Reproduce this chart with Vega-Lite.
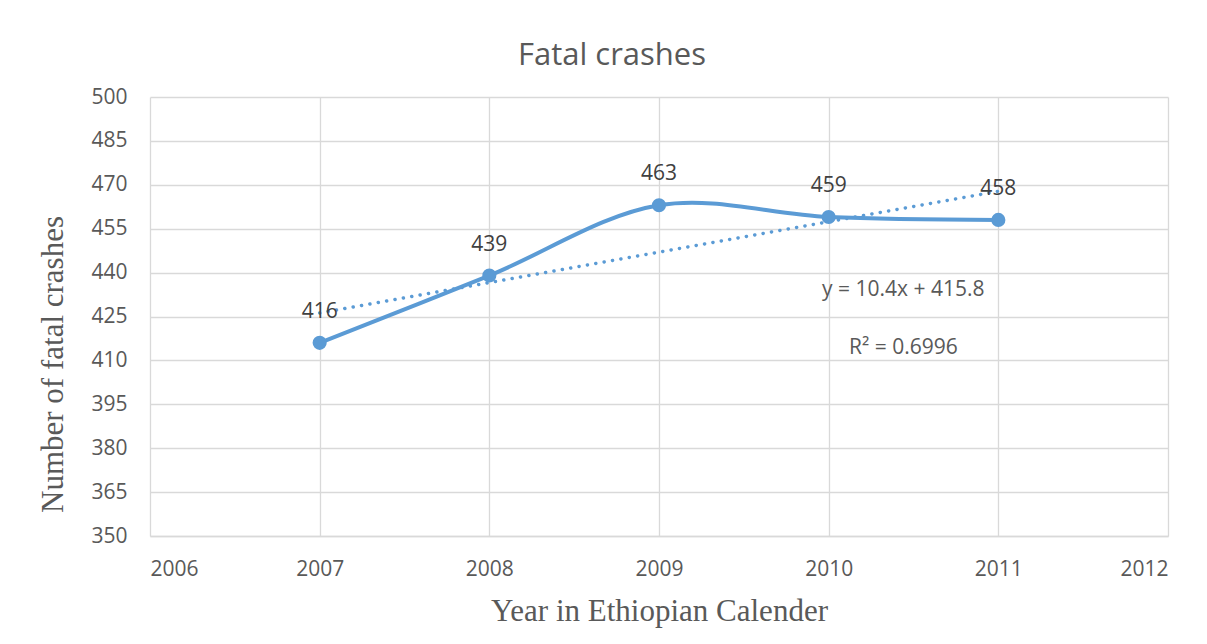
{
  "$schema": "https://vega.github.io/schema/vega-lite/v6.json",
  "width": 1018,
  "height": 439,
  "autosize": {"type": "none"},
  "padding": {"left": 150, "top": 97, "right": 39, "bottom": 108},
  "background": "white",
  "config": {"view": {"stroke": null}},
  "title": {
    "text": "Fatal crashes",
    "font": "Open Sans",
    "fontSize": 31,
    "fontWeight": "normal",
    "color": "#595959",
    "anchor": "middle",
    "frame": "group",
    "dx": -47,
    "offset": 14
  },
  "datasets": {
    "crashes": [
      {"year": 2007, "crashes": 416},
      {"year": 2008, "crashes": 439},
      {"year": 2009, "crashes": 463},
      {"year": 2010, "crashes": 459},
      {"year": 2011, "crashes": 458}
    ],
    "trend": [
      {"year": 2007, "crashes": 426.2},
      {"year": 2011, "crashes": 467.8}
    ],
    "notes": [
      {"year": 2010.44, "crashes": 434.1, "label": "y = 10.4x + 415.8"},
      {"year": 2010.44, "crashes": 414.2, "label": "R² = 0.6996"}
    ]
  },
  "encoding": {
    "x": {
      "field": "year",
      "type": "quantitative",
      "scale": {"domain": [2006, 2012], "nice": false, "zero": false},
      "axis": {
        "title": "Year in Ethiopian Calender",
        "values": [2006, 2007, 2008, 2009, 2010, 2011, 2012],
        "format": "d",
        "grid": true,
        "gridColor": "#d9d9d9",
        "gridWidth": 1.3,
        "domainColor": "#d9d9d9",
        "domainWidth": 1.3,
        "ticks": false,
        "tickSize": 0,
        "labelFont": "Open Sans",
        "labelFontSize": 21,
        "labelColor": "#595959",
        "labelPadding": 22,
        "titleFont": "Liberation Serif",
        "titleFontSize": 31,
        "titleFontWeight": "normal",
        "titleColor": "#595959",
        "titleBaseline": "alphabetic",
        "titleY": 84
      }
    },
    "y": {
      "field": "crashes",
      "type": "quantitative",
      "scale": {"domain": [350, 500], "nice": false, "zero": false},
      "axis": {
        "title": "Number of fatal crashes",
        "values": [350, 365, 380, 395, 410, 425, 440, 455, 470, 485, 500],
        "grid": true,
        "gridColor": "#d9d9d9",
        "gridWidth": 1.3,
        "domain": false,
        "ticks": false,
        "tickSize": 0,
        "labelFont": "Open Sans",
        "labelFontSize": 21,
        "labelColor": "#595959",
        "labelPadding": 23,
        "titleFont": "Liberation Serif",
        "titleFontSize": 31,
        "titleFontWeight": "normal",
        "titleColor": "#595959",
        "titleAngle": -90,
        "titleBaseline": "alphabetic",
        "titleAlign": "center",
        "titleX": -88,
        "titleY": 267
      }
    }
  },
  "layer": [
    {
      "data": {"name": "trend"},
      "mark": {"type": "line", "color": "#5b9bd5", "strokeWidth": 3.5, "strokeDash": [0.1, 8.4], "strokeCap": "round"}
    },
    {
      "data": {"name": "crashes"},
      "mark": {"type": "line", "color": "#5b9bd5", "strokeWidth": 4, "interpolate": "catmull-rom"}
    },
    {
      "data": {"name": "crashes"},
      "mark": {"type": "point", "filled": true, "color": "#5b9bd5", "size": 200, "opacity": 1}
    },
    {
      "data": {"name": "crashes"},
      "mark": {"type": "text", "font": "Open Sans", "fontSize": 21, "color": "#404040", "dy": -31, "baseline": "middle", "align": "center"},
      "encoding": {"text": {"field": "crashes", "type": "quantitative"}}
    },
    {
      "data": {"name": "notes"},
      "mark": {"type": "text", "font": "Open Sans", "fontSize": 21, "color": "#595959", "baseline": "middle", "align": "center"},
      "encoding": {"text": {"field": "label", "type": "nominal"}}
    }
  ]
}
